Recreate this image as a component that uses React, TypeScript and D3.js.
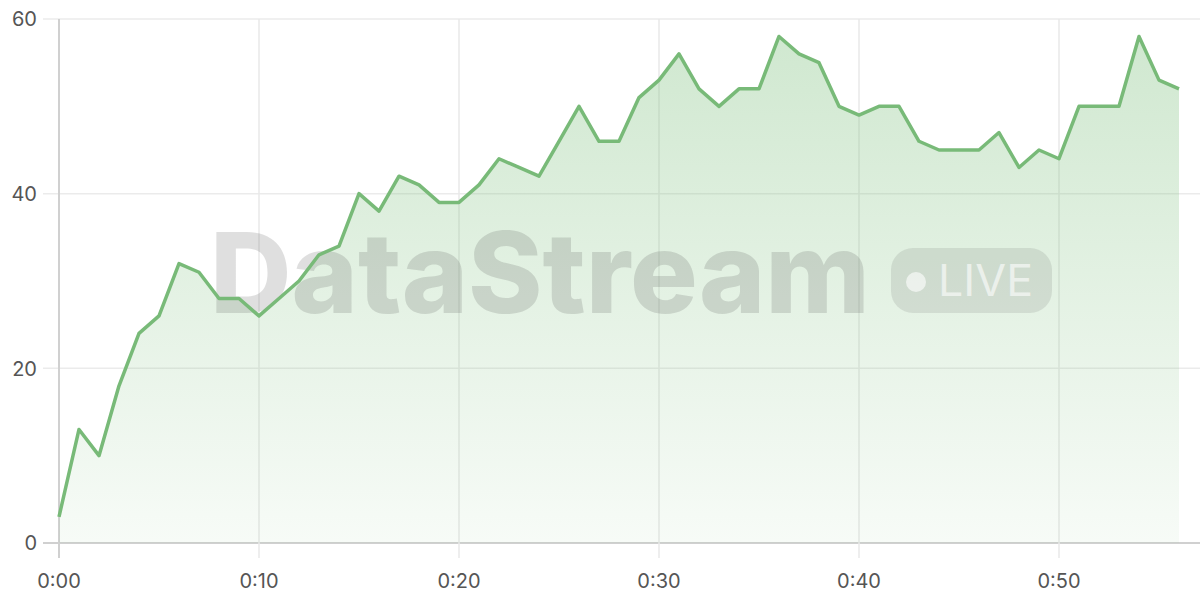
import { area, line, scaleLinear } from "d3";
import React from "react";

const seconds = [
  0, 1, 2, 3, 4, 5, 6, 7, 8, 9, 10, 11, 12, 13, 14, 15, 16, 17, 18, 19, 20,
  21, 22, 23, 24, 25, 26, 27, 28, 29, 30, 31, 32, 33, 34, 35, 36, 37, 38, 39,
  40, 41, 42, 43, 44, 45, 46, 47, 48, 49, 50, 51, 52, 53, 54, 55, 56,
];
const values = [
  3, 13, 10, 18, 24, 26, 32, 31, 28, 28, 26, 28, 30, 33, 34, 40, 38, 42, 41,
  39, 39, 41, 44, 43, 42, 46, 50, 46, 46, 51, 53, 56, 52, 50, 52, 52, 58, 56,
  55, 50, 49, 50, 50, 46, 45, 45, 45, 47, 43, 45, 44, 50, 50, 50, 58, 53, 52,
];
const xTicks = [0, 10, 20, 30, 40, 50];
const yTicks = [0, 20, 40, 60];

const width = 1200;
const height = 600;
const margin = { top: 19, right: 21, bottom: 57, left: 59 };

const x = scaleLinear()
  .domain([0, 56])
  .range([margin.left, width - margin.right]);
const y = scaleLinear()
  .domain([0, 60])
  .range([height - margin.bottom, margin.top]);

const fmt = (s: number) => `${Math.floor(s / 60)}:${String(s % 60).padStart(2, "0")}`;

const lineGen = line<number>()
  .x((_, i) => x(seconds[i]))
  .y((d) => y(d));
const areaGen = area<number>()
  .x((_, i) => x(seconds[i]))
  .y0(y(0))
  .y1((d) => y(d));

const font = "Inter, 'Noto Sans', sans-serif";

export default function App() {
  return (
    <div style={{ position: "fixed", left: 0, top: 0 }}>
      <svg width={width} height={height} style={{ display: "block", background: "#fff" }}>
        <defs>
          <linearGradient id="fillGrad" x1="0" y1="0" x2="0" y2="1">
            <stop offset="0%" stopColor="#7cbf7c" stopOpacity={0.36} />
            <stop offset="100%" stopColor="#7cbf7c" stopOpacity={0.06} />
          </linearGradient>
        </defs>

        {/* grid */}
        {yTicks.map((t) => (
          <g key={`y${t}`}>
            <line
              x1={margin.left - 16}
              x2={width}
              y1={y(t)}
              y2={y(t)}
              stroke={t === 0 ? "#d0d0d0" : "#ebebeb"}
              strokeWidth={t === 0 ? 2 : 1.5}
            />
            <text
              x={margin.left - 22}
              y={y(t)}
              dy="0.36em"
              textAnchor="end"
              fontFamily={font}
              fontSize={20}
              fill="#555"
            >
              {t}
            </text>
          </g>
        ))}
        {xTicks.map((t) => (
          <g key={`x${t}`}>
            <line
              x1={x(t)}
              x2={x(t)}
              y1={margin.top}
              y2={y(0) + 15}
              stroke={t === 0 ? "#d0d0d0" : "#e8e8e8"}
              strokeWidth={t === 0 ? 2 : 1.5}
            />
            <text
              x={x(t)}
              y={y(0) + 45}
              textAnchor="middle"
              fontFamily={font}
              fontSize={20}
              fill="#555"
            >
              {fmt(t)}
            </text>
          </g>
        ))}

        <path d={areaGen(values) ?? ""} fill="url(#fillGrad)" />

        {/* watermark */}
        <g>
          <text
            x={210}
            y={313}
            fontFamily={font}
            fontWeight={800}
            fontSize={112}
            fill="rgba(80,80,80,0.18)"
            textLength={660}
            lengthAdjust="spacingAndGlyphs"
          >
            DataStream
          </text>
          <rect x={891} y={248} width={161} height={65} rx={22} fill="rgba(80,80,80,0.13)" />
          <circle cx={916} cy={282} r={10} fill="rgba(255,255,255,0.6)" />
          <text
            x={938}
            y={296}
            fontFamily={font}
            fontSize={44}
            fill="rgba(255,255,255,0.6)"
            textLength={95}
            lengthAdjust="spacingAndGlyphs"
          >
            LIVE
          </text>
        </g>

        <path
          d={lineGen(values) ?? ""}
          fill="none"
          stroke="#78ba78"
          strokeWidth={3.5}
          strokeLinejoin="round"
        />
      </svg>
    </div>
  );
}
